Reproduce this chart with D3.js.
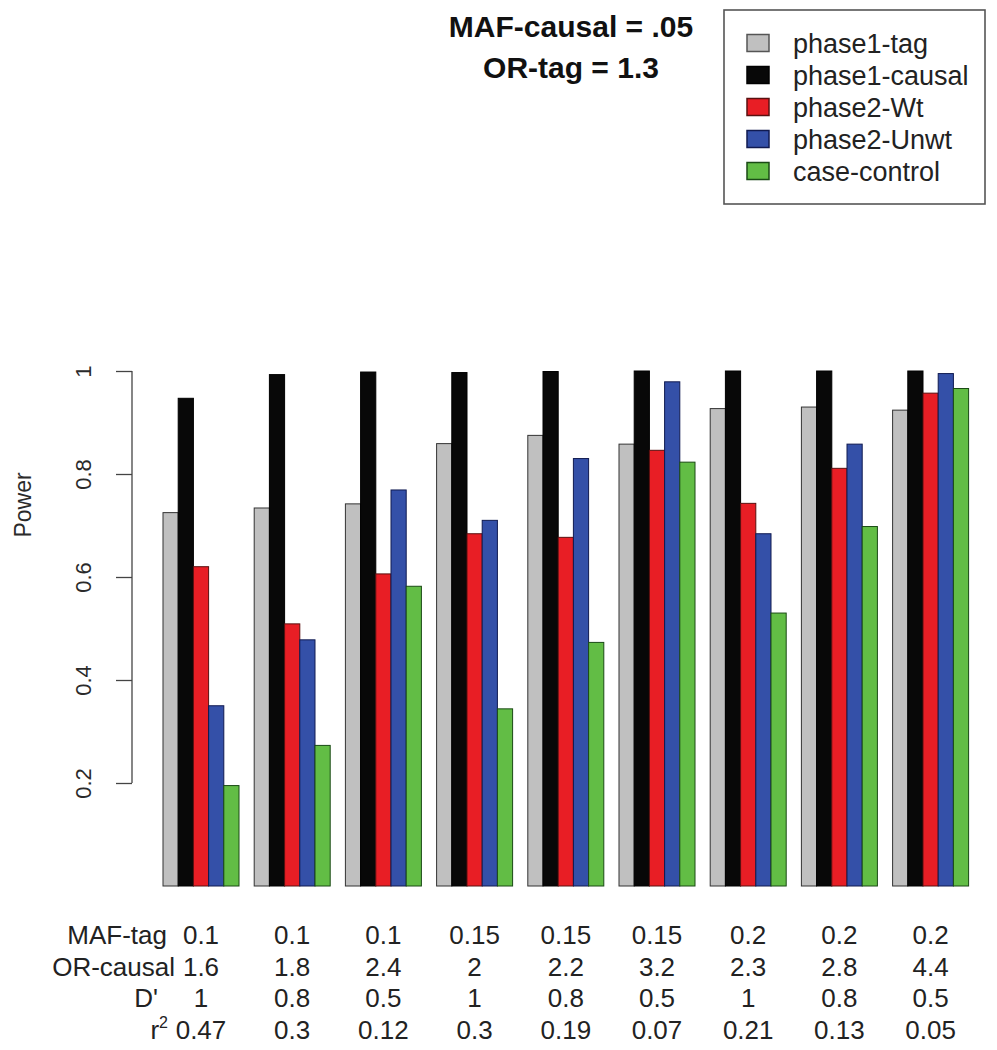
<!DOCTYPE html>
<html>
<head>
<meta charset="utf-8">
<script src="https://cdn.jsdelivr.net/npm/d3@7"></script>
<style>
  html, body { margin: 0; padding: 0; background: #fff; }
  svg { display: block; font-family: "Liberation Sans", Arial, Helvetica, sans-serif; }
</style>
</head>
<body>
<svg id="chart" width="997" height="1050"></svg>
<script>
// ---------------- data ----------------
const seriesNames = ["phase1-tag", "phase1-causal", "phase2-Wt", "phase2-Unwt", "case-control"];
const seriesColors = ["#c0c0c0", "#080808", "#e81e25", "#3450a8", "#62bd45"];
const seriesStroke = ["#333333", "#000000", "#5a1010", "#101a50", "#1a4a15"];

const phase1Tag    = [0.725, 0.734, 0.742, 0.859, 0.875, 0.858, 0.927, 0.930, 0.924];
const phase1Causal = [0.947, 0.993, 0.998, 0.997, 0.999, 1.000, 1.000, 1.000, 1.000];
const phase2Wt     = [0.620, 0.509, 0.606, 0.684, 0.677, 0.846, 0.743, 0.811, 0.957];
const phase2Unwt   = [0.350, 0.478, 0.769, 0.710, 0.830, 0.979, 0.684, 0.858, 0.995];
const caseControl  = [0.195, 0.273, 0.582, 0.344, 0.473, 0.823, 0.530, 0.698, 0.966];

const mafTag   = ["0.1", "0.1", "0.1", "0.15", "0.15", "0.15", "0.2", "0.2", "0.2"];
const orCausal = ["1.6", "1.8", "2.4", "2", "2.2", "3.2", "2.3", "2.8", "4.4"];
const dPrime   = ["1", "0.8", "0.5", "1", "0.8", "0.5", "1", "0.8", "0.5"];
const rSquared = ["0.47", "0.3", "0.12", "0.3", "0.19", "0.07", "0.21", "0.13", "0.05"];

const yTicks = [0.2, 0.4, 0.6, 0.8, 1];
const yTickLabels = ["0.2", "0.4", "0.6", "0.8", "1"];
const titleLines = ["MAF-causal = .05", "OR-tag = 1.3"];
const yLabel = "Power";

// ---------------- layout ----------------
const allSeries = [phase1Tag, phase1Causal, phase2Wt, phase2Unwt, caseControl];
const groups = d3.range(phase1Tag.length);
const svg = d3.select("#chart");

const x0 = d3.scaleBand().domain(groups).range([163, 968.6]).paddingInner(1/6).paddingOuter(0);
const x1 = d3.scaleBand().domain(d3.range(seriesNames.length)).range([0, x0.bandwidth()]).padding(0);
const y = d3.scaleLinear().domain([0, 1]).range([886, 371]);

// bars
const gBars = svg.append("g");
groups.forEach(gi => {
  const g = gBars.append("g").attr("transform", `translate(${x0(gi)},0)`);
  g.selectAll("rect")
    .data(allSeries.map((s, si) => ({ si, v: s[gi] })))
    .join("rect")
    .attr("x", d => x1(d.si))
    .attr("width", x1.bandwidth())
    .attr("y", d => y(d.v))
    .attr("height", d => y(0) - y(d.v))
    .attr("fill", d => seriesColors[d.si])
    .attr("stroke", d => seriesStroke[d.si])
    .attr("stroke-width", 1);
});

// y axis
const axisX = 132;
const yAxis = d3.axisLeft(y)
  .tickValues(yTicks)
  .tickSize(16)
  .tickFormat((d, i) => yTickLabels[i]);
const gAxis = svg.append("g").attr("transform", `translate(${axisX},0)`).call(yAxis);
gAxis.select(".domain").remove();
gAxis.selectAll(".tick line").attr("stroke", "#444").attr("stroke-width", 1.3);
gAxis.selectAll(".tick text")
  .attr("fill", "#2a2a2a")
  .attr("font-size", 22)
  .attr("x", 0).attr("dy", 0)
  .attr("text-anchor", "middle")
  .attr("transform", "translate(-41,0) rotate(-90)");
gAxis.append("line")
  .attr("x1", 0).attr("x2", 0)
  .attr("y1", y(yTicks[0])).attr("y2", y(yTicks[yTicks.length - 1]))
  .attr("stroke", "#444").attr("stroke-width", 1.3);

// y label
svg.append("text")
  .attr("transform", "translate(31,505) rotate(-90)")
  .attr("text-anchor", "middle")
  .attr("font-size", 23)
  .attr("fill", "#2a2a2a")
  .text(yLabel);

// title
svg.selectAll("text.title")
  .data(titleLines)
  .join("text")
  .attr("class", "title")
  .attr("x", 571)
  .attr("y", (d, i) => 37 + i * 41)
  .attr("text-anchor", "middle")
  .attr("font-size", 30)
  .attr("font-weight", "bold")
  .attr("fill", "#111")
  .text(d => d);

// legend
const lg = svg.append("g");
lg.append("rect")
  .attr("x", 724).attr("y", 10).attr("width", 261).attr("height", 194)
  .attr("fill", "#fff").attr("stroke", "#555").attr("stroke-width", 1.6);
seriesNames.forEach((name, i) => {
  const cy = 43 + i * 32;
  lg.append("rect")
    .attr("x", 747).attr("y", cy - 8.5).attr("width", 22).attr("height", 17)
    .attr("fill", seriesColors[i]).attr("stroke", i === 0 ? "#555" : seriesStroke[i]).attr("stroke-width", 1.5);
  lg.append("text")
    .attr("x", 793).attr("y", cy + 9.5)
    .attr("font-size", 27)
    .attr("fill", "#222")
    .text(name);
});

// table below bars
const tableRows = [
  { label: "MAF-tag", vals: mafTag, end: 167 },
  { label: "OR-causal", vals: orCausal, end: 175 },
  { label: "D'", vals: dPrime, end: 158 },
  { label: "r", sup: "2", vals: rSquared, end: 168 }
];
const tg = svg.append("g").attr("font-size", 26).attr("fill", "#222");
tableRows.forEach((row, ri) => {
  const by = 944 + ri * 31.7;
  const t = tg.append("text").attr("x", row.end).attr("y", by).attr("text-anchor", "end");
  t.append("tspan").text(row.label);
  if (row.sup) {
    t.append("tspan").attr("font-size", 16).attr("dy", -11).text(row.sup);
  }
  tg.selectAll(null)
    .data(row.vals)
    .join("text")
    .attr("x", (d, i) => x0(i) + x0.bandwidth() / 2)
    .attr("y", by)
    .attr("text-anchor", "middle")
    .text(d => d);
});
</script>
</body>
</html>
